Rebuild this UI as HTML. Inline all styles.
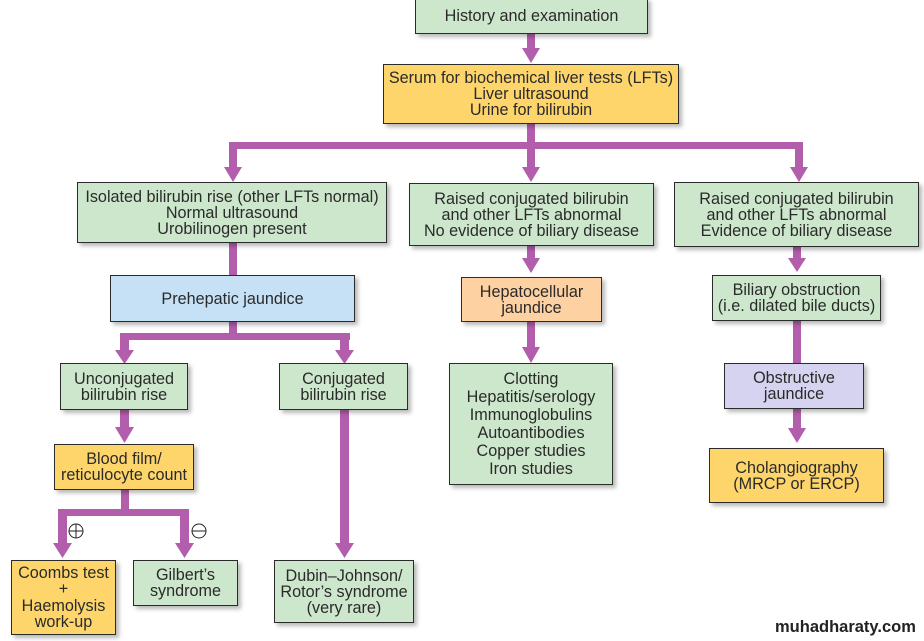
<!DOCTYPE html>
<html>
<head>
<meta charset="utf-8">
<style>
  html, body { margin:0; padding:0; }
  body { width:924px; height:641px; background:#ffffff; position:relative; overflow:hidden;
         font-family:"Liberation Sans", Arial, sans-serif; }
  .b { position:absolute; box-sizing:border-box; border:1px solid #2b2b2b;
       display:flex; align-items:center; justify-content:center; text-align:center;
       font-size:16.2px; line-height:16px; color:#2a2a2a;
       box-shadow:3px 3px 4px rgba(0,0,0,0.28); white-space:nowrap; }
  .g { background:#cde7cc; }
  .y { background:#fdd56b; }
  .p { background:#fdd1a1; }
  .bl { background:#c6e1f6; }
  .l { background:#d5d3ef; }
  svg { position:absolute; left:0; top:0; }
  .wm { position:absolute; left:775px; top:619px; font-size:16.5px; line-height:1; font-weight:bold; color:#222;
        font-family:"Liberation Sans", Arial, sans-serif; white-space:nowrap; }
</style>
</head>
<body>
<svg width="924" height="641" viewBox="0 0 924 641">
  <g fill="#b35ead" stroke="none">
    <rect x="527" y="33" width="8" height="16"/>
    <polygon points="522,48 540,48 531,63"/>
    <rect x="527" y="123" width="8" height="24"/>
    <rect x="229" y="142" width="574" height="7"/>
    <rect x="229" y="142" width="8" height="26"/>
    <polygon points="224,167 242,167 233,182"/>
    <rect x="527" y="142" width="8" height="26"/>
    <polygon points="522,167 540,167 531,182"/>
    <rect x="795" y="142" width="8" height="26"/>
    <polygon points="790,167 808,167 799,182"/>
    <rect x="229" y="242" width="8" height="34"/>
    <rect x="229" y="321" width="8" height="18"/>
    <rect x="120" y="333" width="230" height="7"/>
    <rect x="120" y="333" width="9" height="18"/>
    <polygon points="115,350 134,350 124.5,364"/>
    <rect x="340" y="333" width="9" height="18"/>
    <polygon points="335,350 354,350 344.5,364"/>
    <rect x="120" y="409" width="9" height="19"/>
    <polygon points="115,427 134,427 124.5,443"/>
    <rect x="121" y="489" width="8" height="26"/>
    <rect x="58" y="509" width="131" height="7"/>
    <rect x="58" y="509" width="9" height="35"/>
    <polygon points="53,543 72,543 62.5,558"/>
    <rect x="180" y="509" width="9" height="35"/>
    <polygon points="175,543 194,543 184.5,558"/>
    <rect x="340" y="409" width="9" height="135"/>
    <polygon points="335,543 354,543 344.5,558"/>
    <rect x="527" y="245" width="8" height="14"/>
    <polygon points="522,258 540,258 531,273"/>
    <rect x="527" y="321" width="8" height="27"/>
    <polygon points="522,347 540,347 531,363"/>
    <rect x="793" y="246" width="8" height="13"/>
    <polygon points="788,258 806,258 797,272"/>
    <rect x="793" y="320" width="8" height="44"/>
    <rect x="793" y="408" width="8" height="21"/>
    <polygon points="788,428 806,428 797,443"/>
  </g>
  <g fill="none" stroke="#222" stroke-width="1">
    <circle cx="76" cy="531" r="7"/>
    <line x1="69" y1="531" x2="83" y2="531"/>
    <line x1="76" y1="524" x2="76" y2="538"/>
    <circle cx="199" cy="531" r="7"/>
    <line x1="192" y1="531" x2="206" y2="531"/>
  </g>
</svg>

<div class="b g" style="left:415px;top:-2px;width:233px;height:36px;">History and examination</div>
<div class="b y" style="left:383px;top:64px;width:296px;height:60px;">Serum for biochemical liver tests (LFTs)<br>Liver ultrasound<br>Urine for bilirubin</div>

<div class="b g" style="left:77px;top:182px;width:310px;height:61px;">Isolated bilirubin rise (other LFTs normal)<br>Normal ultrasound<br>Urobilinogen present</div>
<div class="b g" style="left:409px;top:183px;width:245px;height:63px;">Raised conjugated bilirubin<br>and other LFTs abnormal<br>No evidence of biliary disease</div>
<div class="b g" style="left:674px;top:182px;width:245px;height:65px;">Raised conjugated bilirubin<br>and other LFTs abnormal<br>Evidence of biliary disease</div>

<div class="b bl" style="left:110px;top:275px;width:245px;height:47px;">Prehepatic jaundice</div>
<div class="b p" style="left:461px;top:277px;width:141px;height:45px;">Hepatocellular<br>jaundice</div>
<div class="b g" style="left:712px;top:275px;width:169px;height:46px;">Biliary obstruction<br>(i.e. dilated bile ducts)</div>

<div class="b g" style="left:60px;top:363px;width:128px;height:47px;">Unconjugated<br>bilirubin rise</div>
<div class="b g" style="left:279px;top:363px;width:129px;height:47px;">Conjugated<br>bilirubin rise</div>
<div class="b g" style="left:449px;top:363px;width:164px;height:122px;line-height:18px;">Clotting<br>Hepatitis/serology<br>Immunoglobulins<br>Autoantibodies<br>Copper studies<br>Iron studies</div>
<div class="b l" style="left:724px;top:363px;width:140px;height:46px;">Obstructive<br>jaundice</div>

<div class="b y" style="left:54px;top:444px;width:140px;height:46px;">Blood film/<br>reticulocyte count</div>
<div class="b y" style="left:709px;top:448px;width:175px;height:55px;">Cholangiography<br>(MRCP or ERCP)</div>

<div class="b y" style="left:11px;top:560px;width:105px;height:75px;line-height:16.5px;">Coombs test<br>+<br>Haemolysis<br>work-up</div>
<div class="b g" style="left:133px;top:560px;width:105px;height:46px;">Gilbert’s<br>syndrome</div>
<div class="b g" style="left:274px;top:560px;width:140px;height:63px;">Dubin–Johnson/<br>Rotor’s syndrome<br>(very rare)</div>

<div class="wm">muhadharaty.com</div>
</body>
</html>
